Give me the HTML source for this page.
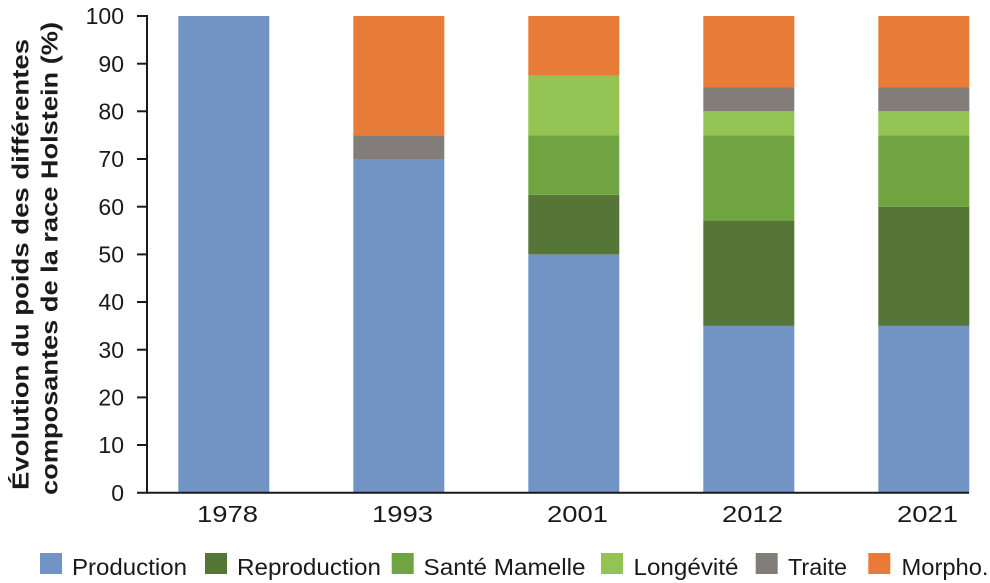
<!DOCTYPE html>
<html><head><meta charset="utf-8"><style>
html,body{margin:0;padding:0;background:#fff;}
svg{display:block;}
text{font-family:"Liberation Sans",Arial,sans-serif;fill:#1a1a1a;}
</style></head><body>
<svg width="990" height="583" viewBox="0 0 990 583" xmlns="http://www.w3.org/2000/svg">
<rect width="990" height="583" fill="#fff"/>
<!-- 1978 -->
<rect x="178.3" y="16" width="91" height="476.7" fill="#7294c4"/>
<!-- 1993 -->
<rect x="353.3" y="159" width="91" height="333.7" fill="#7294c4"/>
<rect x="353.3" y="135.2" width="91" height="23.8" fill="#827d78"/>
<rect x="353.3" y="16" width="91" height="119.2" fill="#e87b37"/>
<!-- 2001 -->
<rect x="528.3" y="254.4" width="91" height="238.3" fill="#7294c4"/>
<rect x="528.3" y="194.8" width="91" height="59.6" fill="#567637"/>
<rect x="528.3" y="135.2" width="91" height="59.6" fill="#70a441"/>
<rect x="528.3" y="75.6" width="91" height="59.6" fill="#92c353"/>
<rect x="528.3" y="16" width="91" height="59.6" fill="#e87b37"/>
<!-- 2012 -->
<rect x="703.3" y="325.9" width="91" height="166.8" fill="#7294c4"/>
<rect x="703.3" y="221" width="91" height="104.9" fill="#567637"/>
<rect x="703.3" y="135.2" width="91" height="85.8" fill="#70a441"/>
<rect x="703.3" y="111.3" width="91" height="23.9" fill="#92c353"/>
<rect x="703.3" y="87.5" width="91" height="23.8" fill="#827d78"/>
<rect x="703.3" y="16" width="91" height="71.5" fill="#e87b37"/>
<!-- 2021 -->
<rect x="878.3" y="325.9" width="91" height="166.8" fill="#7294c4"/>
<rect x="878.3" y="206.7" width="91" height="119.2" fill="#567637"/>
<rect x="878.3" y="135.2" width="91" height="71.5" fill="#70a441"/>
<rect x="878.3" y="111.3" width="91" height="23.9" fill="#92c353"/>
<rect x="878.3" y="87.5" width="91" height="23.8" fill="#827d78"/>
<rect x="878.3" y="16" width="91" height="71.5" fill="#e87b37"/>

<!-- axes -->
<line x1="147" y1="15" x2="147" y2="493.7" stroke="#1a1a1a" stroke-width="2"/>
<line x1="137" y1="492.7" x2="969" y2="492.7" stroke="#1a1a1a" stroke-width="2"/>
<g stroke="#1a1a1a" stroke-width="2">
<line x1="137" y1="16" x2="147" y2="16"/>
<line x1="137" y1="63.7" x2="147" y2="63.7"/>
<line x1="137" y1="111.3" x2="147" y2="111.3"/>
<line x1="137" y1="159" x2="147" y2="159"/>
<line x1="137" y1="206.7" x2="147" y2="206.7"/>
<line x1="137" y1="254.4" x2="147" y2="254.4"/>
<line x1="137" y1="302" x2="147" y2="302"/>
<line x1="137" y1="349.7" x2="147" y2="349.7"/>
<line x1="137" y1="397.4" x2="147" y2="397.4"/>
<line x1="137" y1="445" x2="147" y2="445"/>
</g>
<g font-size="23" text-anchor="end">
<text x="124" y="24.2">100</text>
<text x="124" y="71.9">90</text>
<text x="124" y="119.5">80</text>
<text x="124" y="167.2">70</text>
<text x="124" y="214.9">60</text>
<text x="124" y="262.6">50</text>
<text x="124" y="310.2">40</text>
<text x="124" y="357.9">30</text>
<text x="124" y="405.6">20</text>
<text x="124" y="453.2">10</text>
<text x="124" y="500.9">0</text>
</g>
<g font-size="23">
<text x="197" y="522" textLength="61" lengthAdjust="spacingAndGlyphs">1978</text>
<text x="372" y="522" textLength="61" lengthAdjust="spacingAndGlyphs">1993</text>
<text x="547" y="522" textLength="61" lengthAdjust="spacingAndGlyphs">2001</text>
<text x="722" y="522" textLength="61" lengthAdjust="spacingAndGlyphs">2012</text>
<text x="897" y="522" textLength="61" lengthAdjust="spacingAndGlyphs">2021</text>
</g>
<!-- y label -->
<text font-size="23.5" font-weight="bold" transform="translate(28.5,490) rotate(-90)" textLength="451" lengthAdjust="spacingAndGlyphs">Évolution du poids des différentes</text>
<text font-size="23.5" font-weight="bold" transform="translate(57.5,495) rotate(-90)" textLength="473" lengthAdjust="spacingAndGlyphs">composantes de la race Holstein (%)</text>

<!-- legend -->
<rect x="40" y="553" width="22" height="21" fill="#7294c4"/>
<rect x="205" y="553" width="22" height="21" fill="#567637"/>
<rect x="391.7" y="553" width="22" height="21" fill="#70a441"/>
<rect x="601" y="553" width="22" height="21" fill="#92c353"/>
<rect x="755.7" y="553" width="22" height="21" fill="#827d78"/>
<rect x="868.3" y="553" width="22" height="21" fill="#e87b37"/>
<g font-size="23.5">
<text x="72" y="575" textLength="115" lengthAdjust="spacingAndGlyphs">Production</text>
<text x="237" y="575" textLength="144" lengthAdjust="spacingAndGlyphs">Reproduction</text>
<text x="423.5" y="575" textLength="162" lengthAdjust="spacingAndGlyphs">Santé Mamelle</text>
<text x="633.5" y="575" textLength="105" lengthAdjust="spacingAndGlyphs">Longévité</text>
<text x="788" y="575" textLength="59" lengthAdjust="spacingAndGlyphs">Traite</text>
<text x="901.5" y="575" textLength="87" lengthAdjust="spacingAndGlyphs">Morpho.</text>
</g>
</svg>
</body></html>
